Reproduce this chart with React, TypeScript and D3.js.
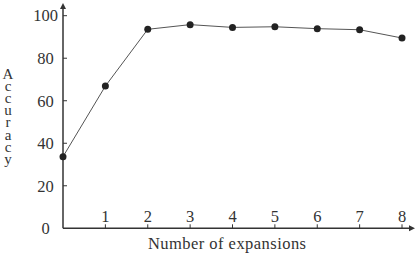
import React from "react";
import * as d3 from "d3";

const expansions = [0, 1, 2, 3, 4, 5, 6, 7, 8];
const accuracy = [33.7, 66.9, 93.6, 95.8, 94.5, 94.8, 93.9, 93.4, 89.5];
const xTicks = [1, 2, 3, 4, 5, 6, 7, 8];
const yTicks = [0, 20, 40, 60, 80, 100];
const yLabel = "Accuracy";
const xTitle = "Number of expansions";

export default function App() {
  const W = 420, H = 255;
  const x = d3.scaleLinear().domain([0, 8]).range([63, 402]);
  const y = d3.scaleLinear().domain([0, 100]).range([228.3, 15.7]);
  const line = d3.line<number>().x((_, i) => x(expansions[i])).y((d) => y(d));
  const font = "'Liberation Serif', 'DejaVu Serif', serif";
  const axisColor = "#333";
  const x0 = x(0), y0 = y(0);
  return (
    <svg width={W} height={H} style={{ position: "absolute", left: 0, top: 0, background: "#fff" }} fontFamily={font}>
      {/* axes */}
      <line x1={x0} y1={y0} x2={x0} y2={6} stroke={axisColor} strokeWidth={1.5} />
      <path d={`M${x0 - 3},${9} L${x0},${3} L${x0 + 3},${9} Z`} fill={axisColor} />
      <line x1={x0} y1={y0} x2={412} y2={y0} stroke={axisColor} strokeWidth={1.5} />
      <path d={`M${409},${y0 - 3} L${415},${y0} L${409},${y0 + 3} Z`} fill={axisColor} />
      {/* y ticks */}
      {yTicks.map((t) => (
        <g key={"y" + t}>
          {t !== 0 && <line x1={x0} x2={x0 + 4} y1={y(t)} y2={y(t)} stroke={axisColor} strokeWidth={1} />}
          <text x={45.5} y={y(t)} dy="0.35em" textAnchor="middle" fontSize={16.5} fill="#333">
            {t}
          </text>
        </g>
      ))}
      {/* x ticks */}
      {xTicks.map((t) => (
        <g key={"x" + t}>
          <line x1={x(t)} x2={x(t)} y1={y0} y2={y0 - 4} stroke={axisColor} strokeWidth={1} />
          <text x={x(t)} y={y0 - 6.5} textAnchor="middle" fontSize={16.5} fill="#333">
            {t}
          </text>
        </g>
      ))}
      {/* data line */}
      <path d={line(accuracy) || ""} fill="none" stroke="#555" strokeWidth={1} />
      {accuracy.map((v, i) => (
        <circle key={i} cx={x(expansions[i])} cy={y(v)} r={3.5} fill="#222" />
      ))}
      {/* titles */}
      <text x={148} y={249} fontSize={16.5} fill="#333" textLength={158} lengthAdjust="spacing">
        {xTitle}
      </text>
      <text
        x={8}
        y={66}
        fontSize={15}
        fill="#333"
        style={{ writingMode: "vertical-rl", textOrientation: "upright", letterSpacing: "-3.9px" } as any}
      >
        {yLabel}
      </text>
    </svg>
  );
}
